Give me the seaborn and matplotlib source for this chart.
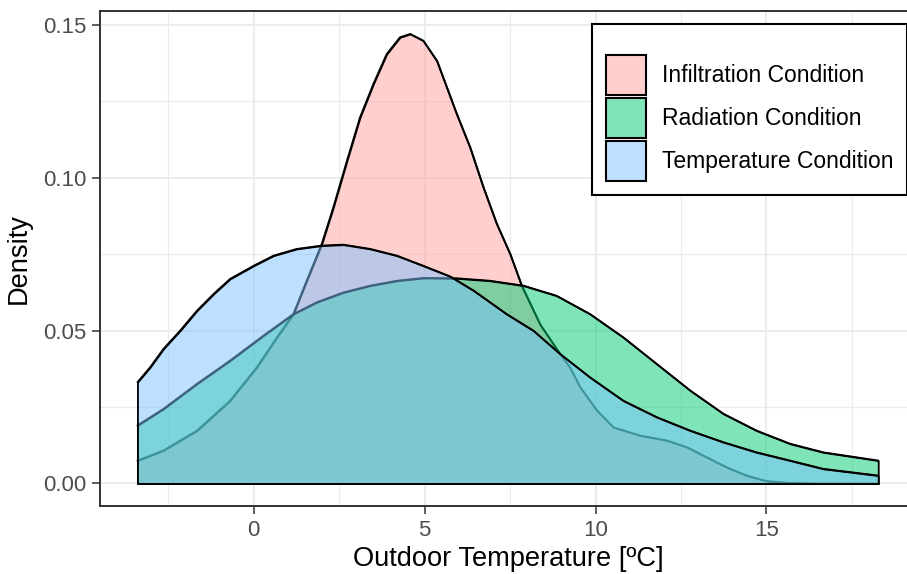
import numpy as np
import pandas as pd
import matplotlib
matplotlib.use("Agg")
import matplotlib.pyplot as plt
from matplotlib.patches import Patch
import seaborn as sns

# ---- data (density curves) ----
categories = ["Infiltration Condition", "Radiation Condition", "Temperature Condition"]

infil_x = [-3.40, -2.64, -1.66, -0.69, 0.09, 0.68, 1.16, 1.55, 1.99, 2.33, 2.73, 3.11,
           3.50, 3.89, 4.28, 4.58, 4.96, 5.36, 5.65, 5.94, 6.33, 6.72, 7.11, 7.50, 7.84,
           8.38, 8.96, 9.25, 9.55, 10.04, 10.52, 11.30, 12.08, 12.67, 13.25, 13.84,
           14.42, 15.01, 15.64, 16.5, 18.27]
infil_y = [0.0075, 0.0108, 0.0173, 0.0271, 0.0380, 0.0478, 0.0554, 0.0663, 0.0783, 0.0903,
           0.1056, 0.1197, 0.1306, 0.1404, 0.1459, 0.1470, 0.1448, 0.1382, 0.1295, 0.1208,
           0.1099, 0.0968, 0.0849, 0.0751, 0.0647, 0.0520, 0.0424, 0.0380, 0.0315, 0.0239,
           0.0184, 0.0157, 0.0141, 0.0119, 0.0086, 0.0053, 0.0026, 0.0008, 0.0002, 0.0,
           0.0]

rad_x = [-3.40, -2.64, -1.66, -0.69, 0.29, 1.16, 1.85, 2.63, 3.41, 4.19, 4.96, 5.94,
         6.91, 7.89, 8.86, 9.84, 10.81, 11.79, 12.77, 13.74, 14.71, 15.69, 16.66, 18.27]
rad_y = [0.0190, 0.0244, 0.0326, 0.0402, 0.0484, 0.0554, 0.0593, 0.0625, 0.0647, 0.0663,
         0.0672, 0.0671, 0.0663, 0.0647, 0.0614, 0.0554, 0.0478, 0.0391, 0.0304, 0.0228,
         0.0173, 0.0130, 0.0102, 0.0075]

temp_x = [-3.40, -3.03, -2.64, -2.15, -1.66, -1.17, -0.69, 0.0, 0.58, 1.26, 1.99, 2.63,
          3.41, 4.19, 4.96, 5.75, 6.43, 7.40, 8.18, 8.96, 9.84, 10.81, 11.79, 12.77,
          13.74, 14.71, 15.69, 16.66, 18.27]
temp_y = [0.0331, 0.0380, 0.0440, 0.0500, 0.0565, 0.0620, 0.0669, 0.0712, 0.0745, 0.0767,
          0.0778, 0.0781, 0.0767, 0.0745, 0.0712, 0.0677, 0.0631, 0.0554, 0.0500, 0.0424,
          0.0347, 0.0271, 0.0217, 0.0173, 0.0135, 0.0102, 0.0075, 0.0048, 0.0026]

xticks = [0, 5, 10, 15]
yticks = [0.00, 0.05, 0.10, 0.15]
ytick_labels = ["0.00", "0.05", "0.10", "0.15"]

fill_colors = ["#FFA19F", "#00CD73", "#7DC3FF"]
ALPHA = 0.5

sns.set_theme(style="whitegrid")
plt.rcParams["font.family"] = ["Liberation Sans", "DejaVu Sans"]

fig = plt.figure(figsize=(9.07, 5.74), dpi=100)
ax = fig.add_axes([100 / 907, 1 - 506 / 574, 816 / 907, 495 / 574])
ax.set_facecolor("white")

series = [(infil_x, infil_y), (rad_x, rad_y), (temp_x, temp_y)]
for i, ((xs, ys), cat, col) in enumerate(zip(series, categories, fill_colors)):
    rgba = matplotlib.colors.to_rgba(col, ALPHA)
    ax.fill_between(xs, ys, 0, facecolor=rgba, edgecolor="black", linewidth=1.3,
                    zorder=2 + i)
    df = pd.DataFrame({"x": xs, "y": ys})
    sns.lineplot(data=df, x="x", y="y", ax=ax, color="black", linewidth=1.3,
                 estimator=None, sort=False, zorder=2 + i + 0.5)

ax.set_xlim(-4.495, 19.375)
ax.set_ylim(-0.00736, 0.1545)
ax.set_xticks(xticks)
ax.set_xticklabels([str(t) for t in xticks])
ax.set_yticks(yticks)
ax.set_yticklabels(ytick_labels)
ax.set_xticks([-2.5, 2.5, 7.5, 12.5, 17.5], minor=True)
ax.set_yticks([0.025, 0.075, 0.125], minor=True)

ax.set_axisbelow(True)
ax.grid(which="major", color="#EBEBEB", linewidth=1.3)
ax.grid(which="minor", color="#EBEBEB", linewidth=0.8)
ax.tick_params(which="minor", length=0)
ax.tick_params(which="major", length=6, width=1.1, color="#333333",
               labelsize=16, labelcolor="#4D4D4D", pad=4, direction="out",
               bottom=True, left=True)
for sp in ax.spines.values():
    sp.set_color("#333333")
    sp.set_linewidth(1.4)
    sp.set_zorder(10)

ax.set_xlabel("Outdoor Temperature [ºC]", fontsize=19.6, color="black", labelpad=4)
ax.set_ylabel("Density", fontsize=19.6, color="black", labelpad=8)

handles = [Patch(facecolor=matplotlib.colors.to_rgba(c, ALPHA), edgecolor="black",
                 linewidth=1.5) for c in fill_colors]
leg = fig.legend(handles, categories, loc="upper left",
                 bbox_to_anchor=(592 / 907, 1 - 24 / 574), bbox_transform=fig.transFigure,
                 fontsize=16.5, title=" ", title_fontsize=10, frameon=True, fancybox=False,
                 framealpha=1, edgecolor="black", handlelength=1.75, handleheight=2.31,
                 labelspacing=0.13, handletextpad=0.7, borderpad=0.6, borderaxespad=0)
leg.get_frame().set_linewidth(1.5)
for t in leg.get_texts():
    t.set_color("black")

fig.savefig("out.png", dpi=100)
